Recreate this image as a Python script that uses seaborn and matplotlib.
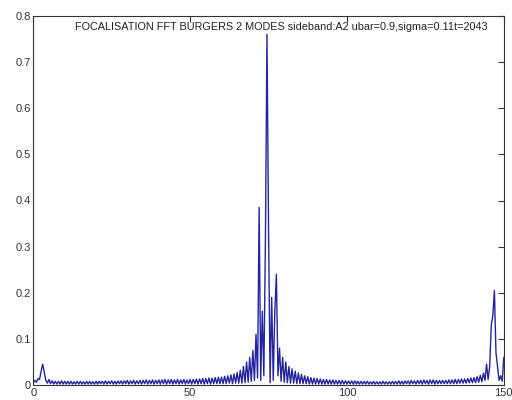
import numpy as np
import pandas as pd
import seaborn as sns
import matplotlib.pyplot as plt

x_start, x_stop, x_step = 0.0, 150.0, 0.5
amplitude = [
    # 0 - 4.5
    0.004, 0.010, 0.006, 0.014, 0.012, 0.030, 0.045, 0.028, 0.010, 0.004,
    # 5 - 9.5
    0.012, 0.003, 0.009, 0.002, 0.008, 0.002, 0.008, 0.002, 0.009, 0.002,
    # 10 - 14.5
    0.008, 0.002, 0.008, 0.002, 0.008, 0.002, 0.007, 0.002, 0.008, 0.002,
    # 15 - 19.5
    0.008, 0.002, 0.007, 0.002, 0.008, 0.002, 0.008, 0.002, 0.007, 0.002,
    # 20 - 24.5
    0.008, 0.002, 0.008, 0.003, 0.008, 0.002, 0.009, 0.002, 0.008, 0.003,
    # 25 - 29.5
    0.009, 0.002, 0.008, 0.002, 0.009, 0.003, 0.009, 0.002, 0.009, 0.003,
    # 30 - 34.5
    0.010, 0.002, 0.009, 0.003, 0.010, 0.002, 0.009, 0.003, 0.010, 0.002,
    # 35 - 39.5
    0.010, 0.003, 0.011, 0.002, 0.010, 0.003, 0.011, 0.002, 0.010, 0.003,
    # 40 - 44.5
    0.011, 0.002, 0.011, 0.003, 0.012, 0.002, 0.011, 0.003, 0.012, 0.002,
    # 45 - 49.5
    0.011, 0.003, 0.012, 0.002, 0.011, 0.003, 0.012, 0.002, 0.011, 0.003,
    # 50 - 54.5
    0.012, 0.002, 0.012, 0.003, 0.013, 0.002, 0.013, 0.003, 0.014, 0.002,
    # 55 - 59.5
    0.014, 0.003, 0.015, 0.002, 0.015, 0.003, 0.016, 0.003, 0.017, 0.003,
    # 60 - 64.5
    0.017, 0.003, 0.019, 0.003, 0.020, 0.004, 0.022, 0.003, 0.024, 0.004,
    # 65 - 69.5
    0.027, 0.004, 0.032, 0.004, 0.040, 0.005, 0.050, 0.006, 0.060, 0.008,
    # 70 - 74.5
    0.075, 0.010, 0.110, 0.015, 0.385, 0.010, 0.160, 0.020, 0.310, 0.760,
    # 75 - 79.5
    0.340, 0.005, 0.190, 0.010, 0.160, 0.240, 0.020, 0.080, 0.008, 0.060,
    # 80 - 84.5
    0.006, 0.050, 0.005, 0.040, 0.004, 0.035, 0.004, 0.030, 0.003, 0.026,
    # 85 - 89.5
    0.003, 0.023, 0.003, 0.020, 0.003, 0.018, 0.002, 0.016, 0.002, 0.015,
    # 90 - 94.5
    0.002, 0.014, 0.002, 0.013, 0.002, 0.012, 0.002, 0.012, 0.002, 0.011,
    # 95 - 99.5
    0.002, 0.011, 0.002, 0.010, 0.002, 0.010, 0.002, 0.010, 0.002, 0.009,
    # 100 - 104.5
    0.002, 0.009, 0.002, 0.009, 0.002, 0.009, 0.002, 0.008, 0.002, 0.008,
    # 105 - 109.5
    0.002, 0.008, 0.002, 0.008, 0.002, 0.007, 0.002, 0.008, 0.002, 0.007,
    # 110 - 114.5
    0.002, 0.007, 0.002, 0.008, 0.002, 0.007, 0.002, 0.007, 0.002, 0.008,
    # 115 - 119.5
    0.002, 0.008, 0.002, 0.009, 0.002, 0.008, 0.002, 0.009, 0.003, 0.009,
    # 120 - 124.5
    0.002, 0.010, 0.003, 0.009, 0.002, 0.010, 0.003, 0.010, 0.002, 0.011,
    # 125 - 129.5
    0.003, 0.010, 0.002, 0.011, 0.003, 0.011, 0.002, 0.010, 0.003, 0.010,
    # 130 - 134.5
    0.003, 0.010, 0.003, 0.010, 0.003, 0.011, 0.003, 0.011, 0.003, 0.012,
    # 135 - 139.5
    0.003, 0.012, 0.004, 0.013, 0.004, 0.013, 0.004, 0.014, 0.005, 0.015,
    # 140 - 144.5
    0.005, 0.016, 0.005, 0.018, 0.006, 0.021, 0.007, 0.026, 0.010, 0.045,
    # 145 - 149.5
    0.012, 0.040, 0.130, 0.150, 0.205, 0.070, 0.040, 0.010, 0.020, 0.008,
    # 150
    0.060,
]

title_text = "FOCALISATION FFT BURGERS 2 MODES sideband:A2 ubar=0.9,sigma=0.11t=2043"
x_ticks = [0, 50, 100, 150]
y_ticks = [0, 0.1, 0.2, 0.3, 0.4, 0.5, 0.6, 0.7, 0.8]

freq = np.arange(x_start, x_stop + x_step / 2, x_step)
df = pd.DataFrame({"k": freq, "amp": amplitude})

sns.set_style("white")
plt.rcParams["font.family"] = ["Liberation Sans", "DejaVu Sans"]

fig = plt.figure(figsize=(5.12, 4.0), dpi=100)
ax = fig.add_axes([0.065, 0.0375, 0.919, 0.9225])

sns.lineplot(data=df, x="k", y="amp", ax=ax, color="#2424a0", lw=1.0)

ax.set_xlim(0, 150)
ax.set_ylim(0, 0.8)
ax.set_xticks(x_ticks)
ax.set_yticks(y_ticks)
ax.set_xticklabels([str(t) for t in x_ticks])
ax.set_yticklabels(["0"] + [f"{t:.1f}" for t in y_ticks[1:]])
ax.tick_params(direction="in", top=True, right=True, length=4, width=0.8,
               labelsize=8, colors="#333333", pad=2)
ax.set_xlabel("")
ax.set_ylabel("")
for s in ax.spines.values():
    s.set_color("#333333")
    s.set_linewidth(0.8)

ax.text(0.089, 0.985, title_text, transform=ax.transAxes, ha="left", va="top",
        fontsize=7.8, color="#222222")

fig.savefig("out.png", dpi=100)
